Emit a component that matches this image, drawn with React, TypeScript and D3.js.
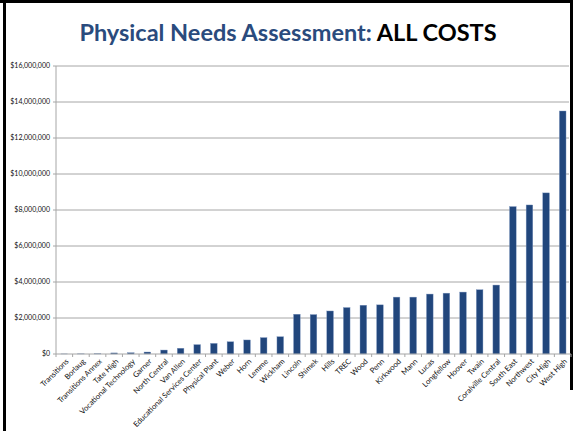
import React from "react";
import * as d3 from "d3";

// schools, sorted from lowest to highest total cost
const schools = [
  "Transitions", "Borlaug", "Transitions Annex", "Tate High", "Vocational Technology",
  "Garner", "North Central", "Van Allen", "Educational Services Center", "Physical Plant",
  "Weber", "Horn", "Lemme", "Wickham", "Lincoln", "Shimek", "Hills", "TREC", "Wood",
  "Penn", "Kirkwood", "Mann", "Lucas", "Longfellow", "Hoover", "Twain",
  "Coralville Central", "South East", "Northwest", "City High", "West High",
];

const costs = [
  5000, 10000, 15000, 60000, 70000,
  110000, 220000, 320000, 520000, 590000,
  680000, 780000, 910000, 960000, 2210000, 2190000, 2390000, 2580000, 2710000,
  2730000, 3160000, 3160000, 3330000, 3380000, 3440000, 3570000,
  3830000, 8190000, 8280000, 8950000, 13500000,
];

const yTicks = [0, 2000000, 4000000, 6000000, 8000000, 10000000, 12000000, 14000000, 16000000];

const W = 575;
const H = 431;
const left = 56;
const right = 571;
const top = 66;
const bottom = 354;

const font = "Lato, 'Open Sans', sans-serif";

export default function App() {
  const x = d3.scaleBand<string>().domain(schools).range([left, right]).paddingInner(0.6).paddingOuter(0.3);
  const y = d3.scaleLinear().domain([0, 16000000]).range([bottom, top]);
  const fmt = (v: number) => "$" + d3.format(",")(v);

  // category boundaries for the tick marks
  const bounds = d3.range(schools.length + 1).map((i) => left + ((right - left) / schools.length) * i);

  return (
    <svg width={W} height={H} style={{ position: "absolute", left: 0, top: 0, background: "#fff" }}>
      {/* slide frame */}
      <line x1={0} y1={1.5} x2={573} y2={1.5} stroke="#000" strokeWidth={3} />
      <line x1={4.5} y1={0} x2={4.5} y2={H} stroke="#000" strokeWidth={3} />
      <line x1={571.5} y1={0} x2={571.5} y2={390} stroke="#000" strokeWidth={3} />

      <text x={288} y={41} textAnchor="middle" fontFamily={font} fontWeight="bold" fontSize={23.5}>
        <tspan fill="#2a4b7d">Physical Needs Assessment: </tspan>
        <tspan fill="#000">ALL COSTS</tspan>
      </text>

      {/* gridlines and y labels */}
      {yTicks.map((t) => (
        <g key={t}>
          {t > 0 && <line x1={left} x2={right - 2} y1={y(t)} y2={y(t)} stroke="#a6a6a6" strokeWidth={1} />}
          <line x1={left - 3} x2={left} y1={y(t)} y2={y(t)} stroke="#a6a6a6" />
          <text x={left - 6} y={y(t)} dy="0.35em" textAnchor="end" fontFamily={font} fontSize={7} fill="#111">
            {fmt(t)}
          </text>
        </g>
      ))}
      <line x1={left} x2={left} y1={top} y2={bottom} stroke="#a6a6a6" />

      {/* bars */}
      {schools.map((s, i) => (
        <rect
          key={s}
          x={x(s)}
          y={y(costs[i])}
          width={x.bandwidth()}
          height={bottom - y(costs[i])}
          fill="#21467c"
          stroke="#7f98c0"
          strokeWidth={0.4}
        />
      ))}

      {/* x axis */}
      <line x1={left} x2={right} y1={bottom} y2={bottom} stroke="#a6a6a6" strokeWidth={1.2} />
      {bounds.map((b, i) => (
        <line key={i} x1={b} x2={b} y1={bottom} y2={bottom + 3} stroke="#a6a6a6" />
      ))}
      {schools.map((s) => {
        const cx = x(s)! + x.bandwidth() / 2 + 3;
        return (
          <text
            key={s}
            transform={`translate(${cx},${bottom + 6}) rotate(-45)`}
            textAnchor="end"
            dy="0.35em"
            fontFamily={font}
            fontSize={7.6}
            fill="#111"
          >
            {s}
          </text>
        );
      })}
    </svg>
  );
}
